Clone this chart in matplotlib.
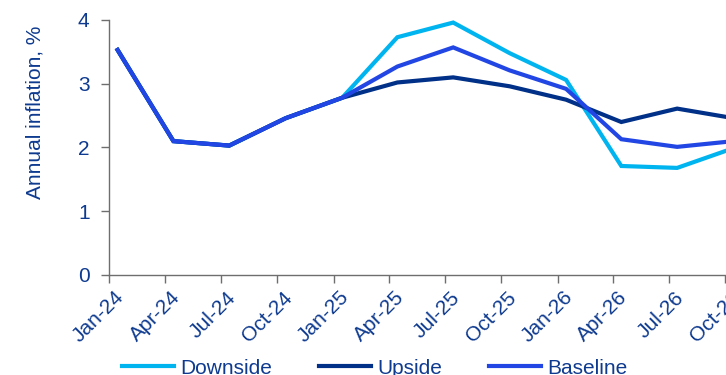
import numpy as np
import pandas as pd
import matplotlib
matplotlib.use("Agg")
import matplotlib.pyplot as plt
import matplotlib.dates as mdates
from matplotlib.transforms import ScaledTranslation

plt.rcParams['font.family'] = ['Liberation Sans', 'DejaVu Sans']

# quarterly observations, dated mid-month
dates = pd.to_datetime([
    "2024-01-15", "2024-04-15", "2024-07-15", "2024-10-15",
    "2025-01-15", "2025-04-15", "2025-07-15", "2025-10-15",
    "2026-01-15", "2026-04-15", "2026-07-15", "2026-10-15",
])
downside = [3.53, 2.10, 2.03, 2.46, 2.78, 3.73, 3.96, 3.48, 3.06, 1.71, 1.68, 1.99]
upside = [3.53, 2.10, 2.03, 2.46, 2.78, 3.02, 3.10, 2.96, 2.75, 2.40, 2.61, 2.46]
baseline = [3.53, 2.10, 2.03, 2.46, 2.78, 3.27, 3.57, 3.21, 2.92, 2.13, 2.01, 2.10]

tick_dates = pd.date_range("2024-01-01", "2026-10-01", freq="QS")

text_col = "#0E3A8F"
colors = {"Downside": "#00B4F0", "Upside": "#003087", "Baseline": "#2146E4"}
fs = 15

fig = plt.figure(figsize=(7.26, 3.75), dpi=100)
W, H = 726, 375
x0, x_oct26 = 109, 725
start = pd.Timestamp("2024-01-01")
end = pd.Timestamp("2027-01-01")
px_per_day = (x_oct26 - x0) / (pd.Timestamp("2026-10-01") - start).days
ax_w = (end - start).days * px_per_day
ax = fig.add_axes([x0 / W, (H - 275) / H, ax_w / W, 255 / H])

for name, vals in [("Downside", downside), ("Upside", upside), ("Baseline", baseline)]:
    ax.plot(dates, vals, color=colors[name], lw=3, label=name, solid_joinstyle="miter")

ax.set_xlim(start, end)
ax.set_ylim(0, 4)
ax.set_yticks([0, 1, 2, 3, 4])
ax.set_xticks(tick_dates)
ax.xaxis.set_major_formatter(mdates.DateFormatter("%b-%y"))

for s in ["top", "right"]:
    ax.spines[s].set_visible(False)
for s in ["left", "bottom"]:
    ax.spines[s].set_color("#6E6E6E")
    ax.spines[s].set_linewidth(1)

ax.tick_params(axis="both", colors="#6E6E6E", length=6, width=1, labelsize=fs,
               labelcolor=text_col)
ax.tick_params(axis="y", pad=8)
ax.tick_params(axis="x", pad=8)
shift = ScaledTranslation(12 / 100, 0, fig.dpi_scale_trans)
for lbl in ax.get_xticklabels():
    lbl.set_rotation(45)
    lbl.set_ha("right")
    lbl.set_va("center")
    lbl.set_rotation_mode("anchor")
    lbl.set_transform(lbl.get_transform() + shift)

fig.text(35 / W, 1 - 112 / H, "Annual inflation, %", rotation=90, ha="center",
         va="center", fontsize=fs, color=text_col)

leg = fig.legend(loc="center", bbox_to_anchor=(375 / W, 7 / H), ncol=3, frameon=False,
                 fontsize=fs, handlelength=2.5, handletextpad=0.3, columnspacing=2.25)
for t in leg.get_texts():
    t.set_color(text_col)

fig.savefig("out.png", dpi=100)
